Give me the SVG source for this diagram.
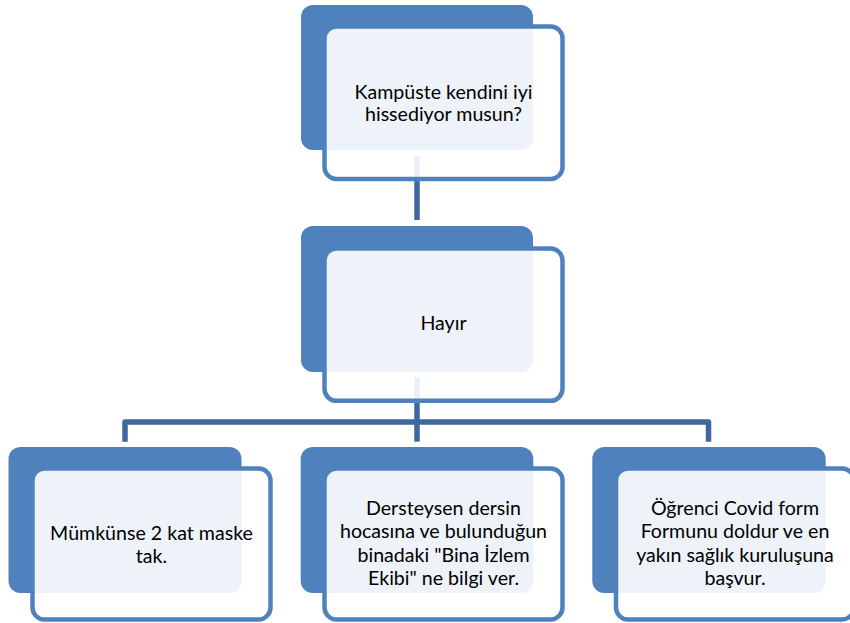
<svg xmlns="http://www.w3.org/2000/svg" width="850" height="623" viewBox="0 0 850 623">
<style>
.back{fill:#4F81BD;}
.front{fill:#FFFFFF;fill-opacity:0.9;stroke:#4F81BD;stroke-width:4.5;}
.conn{fill:none;stroke:#41689E;stroke-width:5.5;stroke-linejoin:round;}
text{font-family:Lato,"Liberation Sans",sans-serif;font-size:19.6px;fill:#000;text-anchor:middle;}
</style>
<rect width="850" height="623" fill="#FFFFFF"/>
<g id="connectors">
<path class="conn" d="M417 156 V220"/>
<path class="conn" d="M417 377 V441.7"/>
<path class="conn" d="M125 441.7 V422 H708.5 V441.7"/>
</g>
<g id="node-top">
<rect class="back" x="301" y="5" width="232" height="145" rx="12"/>
<rect class="front" x="324.5" y="26.5" width="238" height="152.5" rx="12"/>
<text x="443.5" y="98.7">Kampüste kendini iyi</text>
<text x="443.5" y="120.7">hissediyor musun?</text>
</g>
<g id="node-hayir">
<rect class="back" x="301" y="226" width="232" height="146" rx="12"/>
<rect class="front" x="324.5" y="248.5" width="238" height="152.3" rx="12"/>
<text x="443.5" y="330">Hayır</text>
</g>
<g id="node-maske">
<rect class="back" x="8.5" y="447" width="233" height="146" rx="12"/>
<rect class="front" x="32.5" y="468.5" width="238" height="151" rx="12"/>
<text x="151.5" y="540">Mümkünse 2 kat maske</text>
<text x="151.5" y="563.3">tak.</text>
</g>
<g id="node-hoca">
<rect class="back" x="300.7" y="447" width="232.6" height="146" rx="12"/>
<rect class="front" x="324.5" y="468.5" width="238" height="151" rx="12"/>
<text x="443.5" y="515">Dersteysen dersin</text>
<text x="443.5" y="538.3">hocasına ve bulunduğun</text>
<text x="443.5" y="561.7">binadaki "Bina İzlem</text>
<text x="443.5" y="585">Ekibi" ne bilgi ver.</text>
</g>
<g id="node-covid">
<rect class="back" x="592.3" y="447" width="233.4" height="146" rx="12"/>
<rect class="front" x="616" y="468.5" width="238" height="151" rx="12"/>
<text x="735" y="515">Öğrenci Covid form</text>
<text x="735" y="538.3">Formunu doldur ve en</text>
<text x="735" y="561.7">yakın sağlık kuruluşuna</text>
<text x="735" y="585">başvur.</text>
</g>
</svg>
